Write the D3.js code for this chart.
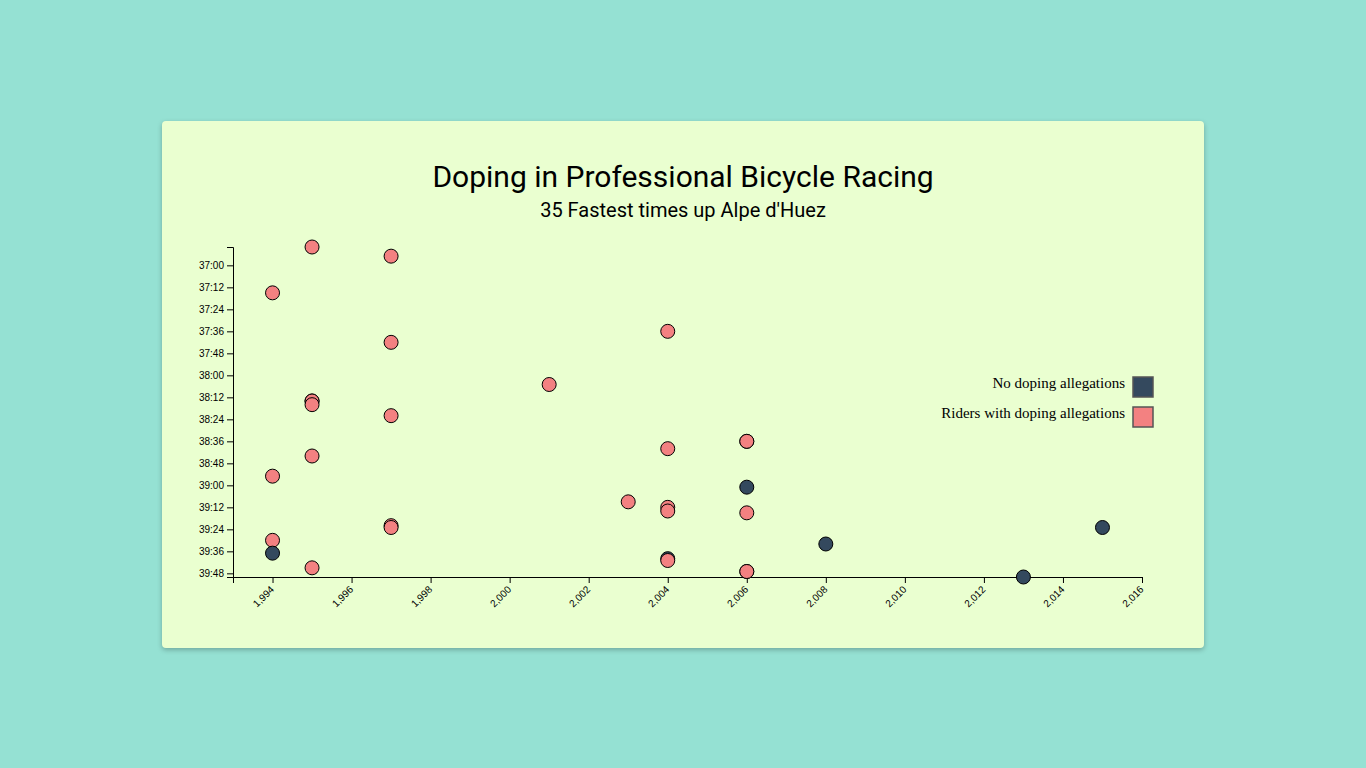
<!DOCTYPE html>
<html>
<head>
<meta charset="utf-8">
<script src="https://cdn.jsdelivr.net/npm/d3@7"></script>
<style>
  html, body { margin: 0; padding: 0; }
  body { width: 1366px; height: 768px; background: #95E1D3; position: relative; overflow: hidden; }
  #card { position: absolute; left: 162px; top: 121px; width: 1042px; height: 527px;
          background: #EAFFD0; border-radius: 4px; box-shadow: 0 2px 5px rgba(0,0,0,0.25); }
  svg { display: block; }
  .tick text { font-family: "Liberation Sans", Arial, sans-serif; }
</style>
</head>
<body>
<div id="card"></div>
<script>
// ---- data ----
const years = [1995, 1997, 1994, 2004, 1997, 2001, 1995, 1995, 1995, 1997,
               2006, 2006, 2004, 1995, 1994, 2006, 2003, 2004, 2004, 2006,
               2015, 1997, 1997, 1994, 2008, 1994, 2004, 2004, 1995, 2006,
               2006, 2013];
const times = ["36:50", "36:55", "37:15", "37:36", "37:42", "38:05", "38:14", "38:14", "38:16", "38:22",
               "38:36", "38:36", "38:40", "38:44", "38:55", "39:01", "39:09", "39:12", "39:14", "39:15",
               "39:23", "39:22", "39:23", "39:30", "39:32", "39:37", "39:40", "39:41", "39:45", "39:47",
               "39:47", "39:50"];
const doping = [1, 1, 1, 1, 1, 1, 1, 1, 1, 1,
                1, 1, 1, 1, 1, 0, 1, 1, 1, 1,
                0, 1, 1, 1, 0, 0, 0, 1, 1, 1,
                1, 0];
const yTickLabels = ["37:00", "37:12", "37:24", "37:36", "37:48", "38:00", "38:12", "38:24",
                     "38:36", "38:48", "39:00", "39:12", "39:24", "39:36", "39:48"];
const legendLabels = ["No doping allegations", "Riders with doping allegations"];
const titleText = "Doping in Professional Bicycle Racing";
const subtitleText = "35 Fastest times up Alpe d'Huez";

const toSec = t => { const [m, s] = t.split(":").map(Number); return m * 60 + s; };
const fmtSec = s => String(Math.floor(s / 60)).padStart(2, "0") + ":" + String(s % 60).padStart(2, "0");
const data = years.map((y, i) => ({ year: y, sec: toSec(times[i]), doping: doping[i] }));

const W = 1042, H = 527;
const margin = { top: 126, right: 62, bottom: 71, left: 71 };
const colors = ["#34495E", "#F38181"];

const svg = d3.select("#card").append("svg").attr("width", W).attr("height", H);

svg.append("text").attr("x", W / 2).attr("y", 66).attr("text-anchor", "middle")
  .style("font-family", "Roboto, sans-serif").style("font-size", "30px").style("fill", "#000")
  .text(titleText);
svg.append("text").attr("x", W / 2).attr("y", 96).attr("text-anchor", "middle")
  .style("font-family", "Roboto, sans-serif").style("font-size", "20px").style("fill", "#000")
  .text(subtitleText);

const x = d3.scaleLinear()
  .domain([d3.min(years) - 1, d3.max(years) + 1])
  .range([margin.left, W - margin.right]);
const y = d3.scaleLinear()
  .domain(d3.extent(data, d => d.sec))
  .range([margin.top, H - margin.bottom]);

const gx = svg.append("g").attr("transform", `translate(0,${H - margin.bottom})`)
  .call(d3.axisBottom(x).tickFormat(d3.format(",")));
gx.selectAll("text")
  .attr("dx", "-.8em").attr("dy", ".15em")
  .attr("transform", "rotate(-45)")
  .style("text-anchor", "end");

svg.append("g").attr("transform", `translate(${margin.left},0)`)
  .call(d3.axisLeft(y).tickValues(yTickLabels.map(toSec)).tickFormat(fmtSec));

svg.append("g").selectAll("circle").data(data).join("circle")
  .attr("cx", d => x(d.year))
  .attr("cy", d => y(d.sec))
  .attr("r", 7)
  .attr("fill", d => colors[d.doping])
  .attr("stroke", "#000")
  .attr("stroke-width", 1);

const leg = svg.append("g");
legendLabels.forEach((lab, i) => {
  const g = leg.append("g").attr("transform", `translate(0,${256 + i * 30})`);
  g.append("rect").attr("x", 971).attr("y", 0).attr("width", 20).attr("height", 20)
    .attr("fill", colors[i]).attr("stroke", "#555").attr("stroke-width", 1.5);
  g.append("text").attr("x", 963).attr("y", 11)
    .attr("text-anchor", "end")
    .style("font-family", "'Liberation Serif', 'Times New Roman', serif").style("font-size", "15px")
    .text(lab);
});
</script>
</body>
</html>
